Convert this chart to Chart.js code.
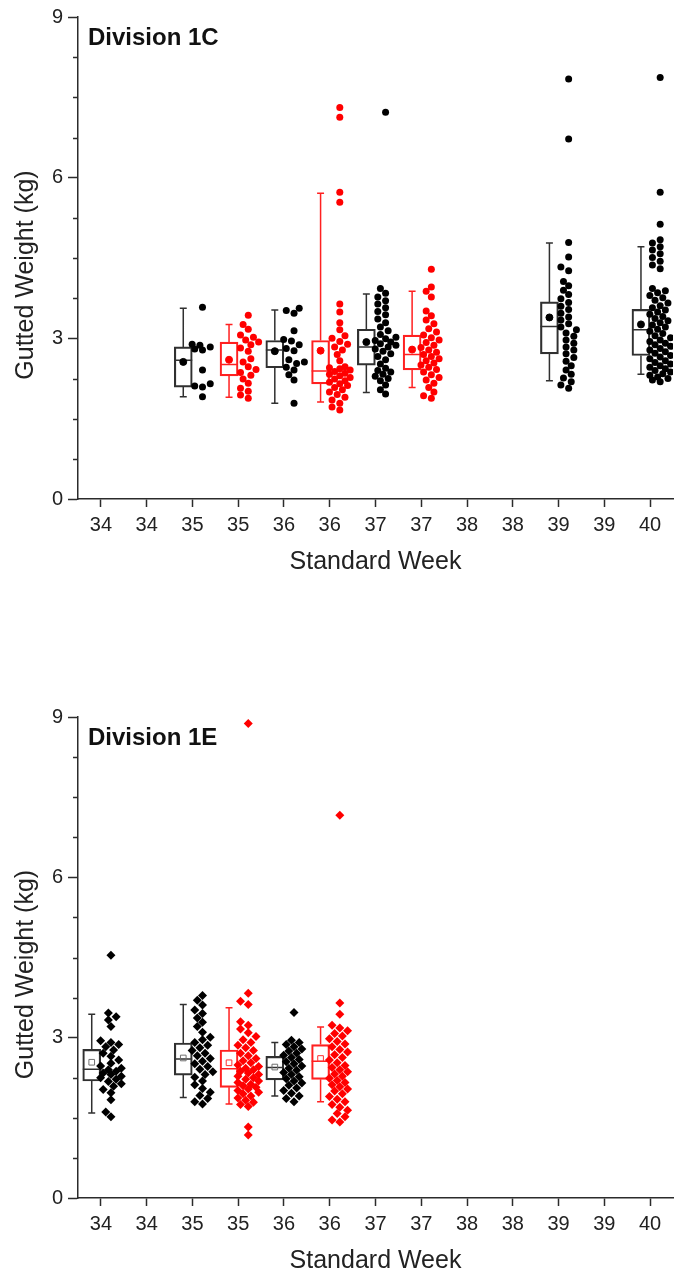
<!DOCTYPE html>
<html lang="en">
<head>
<meta charset="UTF-8">
<title>Gutted Weight by Standard Week</title>
<script src="https://cdn.jsdelivr.net/npm/chart.js"></script>
<style>
  body { margin: 0; background: #fff; }
  canvas { position: absolute; left: 0; }
</style>
</head>
<body>
<canvas id="chart1C" width="678" height="639" style="top:0"></canvas>
<canvas id="chart1E" width="678" height="639" style="top:639px"></canvas>
<script>
// ---- shared axis labels ----
const weekLabels = ['34', '34', '35', '35', '36', '36', '37', '37', '38', '38', '39', '39', '40'];

// ---- Division 1C ----
const c1Slot   = [2, 3, 4, 5, 6, 7, 10, 12];
const c1Fleet  = ['A', 'B', 'A', 'B', 'A', 'B', 'A', 'A'];
const c1Low    = [1.91, 1.90, 1.79, 1.81, 1.99, 2.08, 2.21, 2.33];
const c1Q1     = [2.09, 2.30, 2.45, 2.15, 2.50, 2.41, 2.71, 2.68];
const c1Median = [2.59, 2.51, 2.78, 2.39, 2.84, 2.70, 3.22, 3.16];
const c1Q3     = [2.84, 2.93, 2.96, 2.96, 3.17, 3.06, 3.68, 3.54];
const c1High   = [3.56, 3.26, 3.53, 5.71, 3.83, 3.88, 4.78, 4.71];
const c1Mean   = [2.56, 2.60, 2.76, 2.77, 2.93, 2.79, 3.39, 3.26];

const c1Wk35A = [3.58, 2.89, 2.87, 2.84, 2.80, 2.78, 2.41, 2.15, 2.11, 2.09, 1.91];
const c1Wk35B = [3.43, 3.26, 3.17, 3.06, 3.02, 2.97, 2.93, 2.88, 2.82, 2.76, 2.62, 2.56, 2.47, 2.42,
                 2.36, 2.31, 2.24, 2.16, 2.07, 2.01, 1.94, 1.88];
const c1Wk36A = [3.56, 3.52, 3.47, 3.14, 2.98, 2.95, 2.88, 2.81, 2.77, 2.60, 2.56, 2.53, 2.46, 2.41, 2.32, 2.22, 1.79];
const c1Wk36B = [7.31, 7.13, 5.73, 5.54, 3.64, 3.49, 3.29, 3.16, 3.05, 3.00, 2.94, 2.89, 2.84, 2.78, 2.70, 2.58,
                 2.47, 2.45, 2.43, 2.41, 2.38, 2.35, 2.33, 2.30, 2.27, 2.24, 2.21, 2.18, 2.15, 2.12, 2.08, 2.04,
                 2.00, 1.95, 1.90, 1.85, 1.79, 1.72, 1.66];
const c1Wk37A = [7.22, 3.93, 3.84, 3.77, 3.70, 3.64, 3.57, 3.50, 3.44, 3.36, 3.29, 3.21, 3.14, 3.07, 3.02, 2.99,
                 2.96, 2.93, 2.90, 2.87, 2.84, 2.80, 2.76, 2.71, 2.66, 2.60, 2.52, 2.44, 2.40, 2.37, 2.33, 2.29,
                 2.25, 2.21, 2.13, 2.04, 1.96];
const c1Wk37B = [4.29, 3.96, 3.88, 3.77, 3.51, 3.42, 3.34, 3.27, 3.18, 3.12, 3.06, 3.01, 2.97, 2.92, 2.87, 2.83,
                 2.78, 2.74, 2.70, 2.66, 2.62, 2.58, 2.54, 2.50, 2.46, 2.42, 2.37, 2.32, 2.27, 2.22, 2.16, 2.08,
                 2.00, 1.93, 1.88];
const c1Wk39A = [7.84, 6.72, 4.79, 4.52, 4.33, 4.26, 4.06, 3.98, 3.90, 3.82, 3.74, 3.67, 3.60, 3.54, 3.47, 3.40,
                 3.34, 3.27, 3.21, 3.16, 3.10, 3.04, 2.97, 2.91, 2.84, 2.78, 2.71, 2.64, 2.57, 2.49, 2.41, 2.33,
                 2.26, 2.19, 2.13, 2.07];
const c1Wk40A = [7.87, 5.73, 5.13, 4.84, 4.78, 4.71, 4.65, 4.58, 4.51, 4.44, 4.37, 4.30, 3.93, 3.89, 3.85, 3.80,
                 3.76, 3.71, 3.66, 3.61, 3.57, 3.53, 3.49, 3.45, 3.41, 3.37, 3.33, 3.29, 3.25, 3.21, 3.17, 3.13,
                 3.09, 3.05, 3.01, 2.97, 2.94, 2.91, 2.88, 2.85, 2.81, 2.78, 2.75, 2.72, 2.68, 2.65, 2.62, 2.58,
                 2.55, 2.52, 2.49, 2.46, 2.43, 2.40, 2.37, 2.34, 2.31, 2.28, 2.25, 2.22, 2.19];
const c1Points = [c1Wk35A, c1Wk35B, c1Wk36A, c1Wk36B, c1Wk37A, c1Wk37B, c1Wk39A, c1Wk40A];

// ---- Division 1E ----
const e1Slot   = [0, 2, 3, 4, 5];
const e1Fleet  = ['A', 'A', 'B', 'A', 'B'];
const e1Low    = [1.59, 1.88, 1.76, 1.91, 1.80];
const e1Q1     = [2.19, 2.30, 2.07, 2.21, 2.22];
const e1Median = [2.41, 2.60, 2.42, 2.44, 2.56];
const e1Q3     = [2.78, 2.90, 2.77, 2.65, 2.87];
const e1High   = [3.44, 3.62, 3.56, 2.91, 3.20];
const e1Mean   = [2.54, 2.62, 2.53, 2.45, 2.61];

const e1Wk34A = [4.54, 3.46, 3.39, 3.33, 3.21, 2.94, 2.91, 2.87, 2.83, 2.77, 2.71, 2.65, 2.58, 2.52, 2.47, 2.43,
                 2.40, 2.37, 2.34, 2.31, 2.28, 2.25, 2.22, 2.18, 2.14, 2.09, 2.03, 1.97, 1.84, 1.61, 1.52];
const e1Wk35A = [3.79, 3.70, 3.61, 3.52, 3.45, 3.37, 3.29, 3.21, 3.10, 3.01, 2.96, 2.91, 2.86, 2.81, 2.76, 2.71,
                 2.66, 2.61, 2.56, 2.51, 2.46, 2.41, 2.36, 2.31, 2.26, 2.19, 2.12, 2.05, 1.98, 1.92, 1.86, 1.80, 1.76];
const e1Wk35B = [8.88, 3.83, 3.68, 3.62, 3.30, 3.23, 3.16, 3.09, 3.02, 2.96, 2.91, 2.86, 2.81, 2.76, 2.71, 2.66,
                 2.61, 2.57, 2.53, 2.49, 2.46, 2.43, 2.40, 2.37, 2.34, 2.31, 2.28, 2.25, 2.22, 2.19, 2.16, 2.13,
                 2.10, 2.07, 2.04, 2.01, 1.98, 1.95, 1.91, 1.87, 1.83, 1.79, 1.75, 1.71, 1.33, 1.18];
const e1Wk36A = [3.47, 2.95, 2.91, 2.87, 2.83, 2.79, 2.75, 2.71, 2.67, 2.63, 2.59, 2.55, 2.51, 2.47, 2.43, 2.39,
                 2.35, 2.31, 2.27, 2.23, 2.19, 2.15, 2.11, 2.06, 2.01, 1.96, 1.91, 1.86, 1.80];
const e1Wk36B = [7.16, 3.65, 3.44, 3.23, 3.18, 3.13, 3.08, 3.03, 2.98, 2.93, 2.88, 2.83, 2.78, 2.73, 2.68, 2.63,
                 2.58, 2.53, 2.48, 2.44, 2.40, 2.36, 2.32, 2.28, 2.24, 2.20, 2.16, 2.12, 2.08, 2.04, 2.00, 1.95,
                 1.90, 1.85, 1.80, 1.75, 1.70, 1.64, 1.58, 1.52, 1.46, 1.42];
const e1Points = [e1Wk34A, e1Wk35A, e1Wk35B, e1Wk36A, e1Wk36B];

// ---- styling ----
Chart.defaults.font.family = '"Liberation Sans", Arial, sans-serif';
const AXIS = '#2b2b2b';
const pointColour = { A: '#000000', B: '#ff0000' };
const boxColour   = { A: '#303030', B: '#ff2020' };
const meanOpen    = { A: '#707070', B: '#ff3030' };
const PX_X = 46, PX_Y = 53.6;          // approx. pixels per unit on each axis
const BOX_OFF = -0.2, PTS_OFF = 0.22;  // box left of tick, points right of it
const HALF = 9 / PX_X, CAP = 3.5 / PX_X;

// simple beeswarm: spread points sideways only where they crowd
function swarm(values, centre) {
  const placed = [];
  const STEP = 2.6, MIN_DIST = 6.5, MAX_K = 4;
  return values.slice().sort((a, b) => a - b).map(v => {
    const yp = v * PX_Y;
    let best = null, bestGap = -1;
    for (let k = 0; k <= MAX_K * 2; k++) {
      const off = (k % 2 ? -1 : 1) * Math.ceil(k / 2) * STEP;
      let gap = Infinity;
      placed.forEach(p => { gap = Math.min(gap, Math.hypot(p.x - off, p.y - yp)); });
      if (gap >= MIN_DIST) { best = off; break; }
      if (gap > bestGap) { bestGap = gap; best = off; }
    }
    placed.push({ x: best, y: yp });
    return { x: centre + best / PX_X, y: v };
  });
}

const panelDecor = {
  id: 'panelDecor',
  afterDraw(chart, args, opts) {
    const { ctx, chartArea, scales: { y } } = chart;
    ctx.save();
    ctx.strokeStyle = AXIS;
    ctx.lineWidth = 1.5;
    for (let i = 1; i < 12; i++) {
      if (i % 4 === 0) continue;
      const py = Math.round(y.getPixelForValue(i * 0.75)) + 0.5;
      ctx.beginPath();
      ctx.moveTo(chartArea.left - 5, py);
      ctx.lineTo(chartArea.left, py);
      ctx.stroke();
    }
    ctx.fillStyle = '#111';
    ctx.font = 'bold 24px "Liberation Sans", Arial, sans-serif';
    ctx.textAlign = 'left';
    ctx.textBaseline = 'middle';
    ctx.fillText(opts.label, chartArea.left + 10, chartArea.top + 21);
    ctx.translate(26, (chartArea.top + chartArea.bottom) / 2 + 17);
    ctx.rotate(-Math.PI / 2);
    ctx.textAlign = 'center';
    ctx.fillStyle = '#222';
    ctx.font = '25px "Liberation Sans", Arial, sans-serif';
    ctx.fillText('Gutted Weight (kg)', 0, 0);
    ctx.restore();
  }
};

function makePanel(id, label, slot, fleet, low, q1, med, q3, high, mean, points, look) {
  const datasets = [];
  ['A', 'B'].forEach(f => {
    const idx = slot.map((s, i) => i).filter(i => fleet[i] === f);
    if (!idx.length) return;
    // box body
    datasets.push({
      type: 'bar',
      data: idx.map(i => ({ x: slot[i] + BOX_OFF, y: [q1[i], q3[i]] })),
      backgroundColor: 'rgba(0,0,0,0)',
      borderColor: boxColour[f],
      borderWidth: 1.5,
      borderSkipped: false,
      barThickness: 18,
      grouped: false,
      order: 3
    });
    // whiskers, caps and median
    const seg = [];
    idx.forEach(i => {
      const cx = slot[i] + BOX_OFF;
      seg.push({ x: cx, y: q3[i] }, { x: cx, y: high[i] }, { x: cx, y: null },
               { x: cx - CAP, y: high[i] }, { x: cx + CAP, y: high[i] }, { x: cx, y: null },
               { x: cx, y: q1[i] }, { x: cx, y: low[i] }, { x: cx, y: null },
               { x: cx - CAP, y: low[i] }, { x: cx + CAP, y: low[i] }, { x: cx, y: null },
               { x: cx - HALF, y: med[i] }, { x: cx + HALF, y: med[i] }, { x: cx, y: null });
    });
    datasets.push({
      type: 'scatter', showLine: true, spanGaps: false, data: seg,
      borderColor: boxColour[f], borderWidth: 1.5, pointRadius: 0, order: 2
    });
    // mean marker
    datasets.push({
      type: 'scatter',
      data: idx.map(i => ({ x: slot[i] + BOX_OFF, y: mean[i] })),
      pointStyle: look.meanStyle,
      pointRadius: look.meanRadius,
      backgroundColor: look.meanFilled ? pointColour[f] : 'rgba(0,0,0,0)',
      borderColor: look.meanFilled ? pointColour[f] : meanOpen[f],
      borderWidth: 1,
      order: 1
    });
    // raw observations
    datasets.push({
      type: 'scatter',
      data: idx.flatMap(i => swarm(points[i], slot[i] + PTS_OFF)),
      pointStyle: look.pointStyle,
      pointRadius: look.pointRadius,
      backgroundColor: pointColour[f],
      borderColor: pointColour[f],
      borderWidth: 0,
      order: 0
    });
  });

  return new Chart(document.getElementById(id), {
    type: 'scatter',
    data: { datasets },
    options: {
      responsive: false,
      animation: false,
      layout: { padding: look.padding },
      plugins: { legend: { display: false }, tooltip: { enabled: false }, panelDecor: { label } },
      scales: {
        x: {
          type: 'linear', min: -0.5, max: 12.5, offset: false,
          afterBuildTicks: s => { s.ticks = weekLabels.map((_, i) => ({ value: i })); },
          afterFit: s => { s.height = 78; },
          ticks: {
            autoSkip: false, maxRotation: 0, padding: 6, color: '#222',
            font: { size: 20 },
            callback: v => weekLabels[v]
          },
          grid: { offset: false, drawOnChartArea: false, tickLength: 8, tickWidth: 1.5, color: AXIS },
          border: { color: AXIS, width: 1.5 },
          title: { display: true, text: 'Standard Week', color: '#222', font: { size: 25 }, padding: 0 }
        },
        y: {
          min: 0, max: 9,
          afterFit: s => { s.width = 78; },
          ticks: { stepSize: 3, padding: 5, color: '#222', font: { size: 20 } },
          grid: { drawOnChartArea: false, tickLength: 10, tickWidth: 1.5, color: AXIS },
          border: { color: AXIS, width: 1.5 }
        }
      }
    },
    plugins: [panelDecor]
  });
}

makePanel('chart1C', 'Division 1C', c1Slot, c1Fleet, c1Low, c1Q1, c1Median, c1Q3, c1High, c1Mean, c1Points, {
  meanStyle: 'circle', meanRadius: 3.5, meanFilled: true,
  pointStyle: 'circle', pointRadius: 3.5,
  padding: { top: 17, bottom: 62, left: 0, right: 2 }
});
makePanel('chart1E', 'Division 1E', e1Slot, e1Fleet, e1Low, e1Q1, e1Median, e1Q3, e1High, e1Mean, e1Points, {
  meanStyle: 'rect', meanRadius: 4, meanFilled: false,
  pointStyle: 'rectRot', pointRadius: 4.5,
  padding: { top: 78, bottom: 2, left: 0, right: 2 }
});
</script>
</body>
</html>
